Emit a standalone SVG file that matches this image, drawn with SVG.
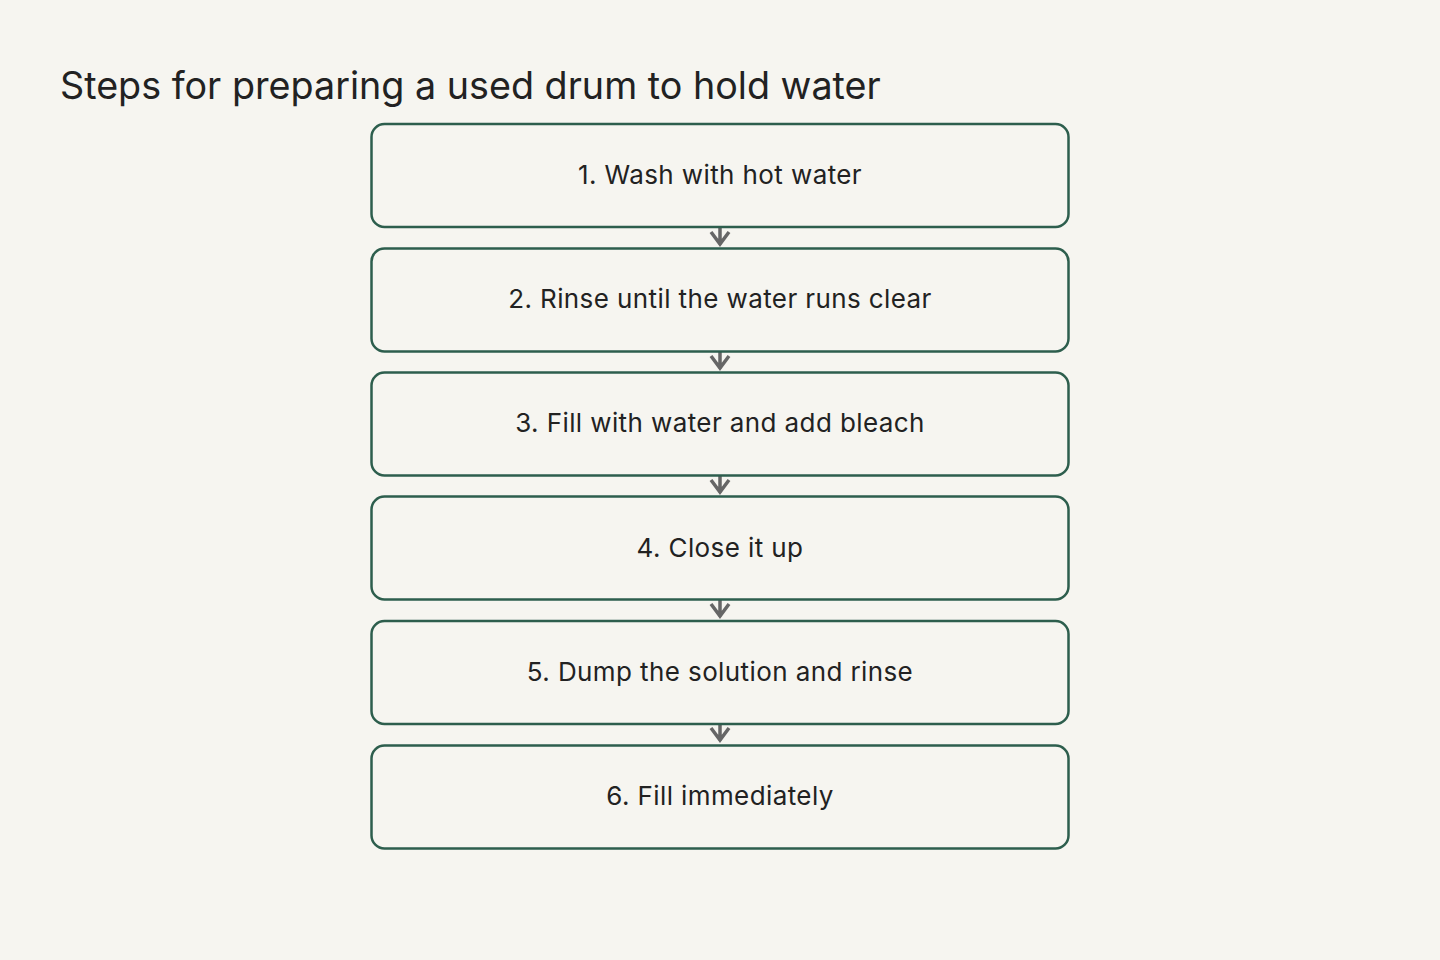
<svg xmlns="http://www.w3.org/2000/svg" width="1440" height="960" viewBox="0 0 1440 960">
<style>
.bg{fill:#f6f5f0}
.box{fill:#f6f5f0;stroke:#2d5e4d;stroke-width:2.5}
.lbl{font-family:Inter,"Liberation Sans",sans-serif;font-size:26px;letter-spacing:0.4px;fill:#222;text-anchor:middle}
.title{font-family:Inter,"Liberation Sans",sans-serif;font-size:37.7px;fill:#222}
.conn{stroke:#666;stroke-width:3.5;fill:none;stroke-linejoin:miter}
</style>
<rect class="bg" x="0" y="0" width="1440" height="960"/>
<text class="title" x="60" y="99">Steps for preparing a used drum to hold water</text>
<g id="connectors">
<g class="conn">
<path d="M720 227V245M711 232L720 244L729 232"/>
<path d="M720 352V369M711 356L720 368L729 356"/>
<path d="M720 476V493M711 480L720 492L729 480"/>
<path d="M720 600V617M711 604L720 616L729 604"/>
<path d="M720 724V741M711 728L720 740L729 728"/>
</g>
</g>
<g id="n1"><rect class="box" x="371.5" y="124" width="697" height="103" rx="13"/><text class="lbl" x="720" y="184">1. Wash with hot water</text></g>
<g id="n2"><rect class="box" x="371.5" y="248.5" width="697" height="103" rx="13"/><text class="lbl" x="720" y="308">2. Rinse until the water runs clear</text></g>
<g id="n3"><rect class="box" x="371.5" y="372.5" width="697" height="103" rx="13"/><text class="lbl" x="720" y="432">3. Fill with water and add bleach</text></g>
<g id="n4"><rect class="box" x="371.5" y="496.5" width="697" height="103" rx="13"/><text class="lbl" x="720" y="557">4. Close it up</text></g>
<g id="n5"><rect class="box" x="371.5" y="621" width="697" height="103" rx="13"/><text class="lbl" x="720" y="681">5. Dump the solution and rinse</text></g>
<g id="n6"><rect class="box" x="371.5" y="745.5" width="697" height="103" rx="13"/><text class="lbl" x="720" y="805">6. Fill immediately</text></g>
</svg>
